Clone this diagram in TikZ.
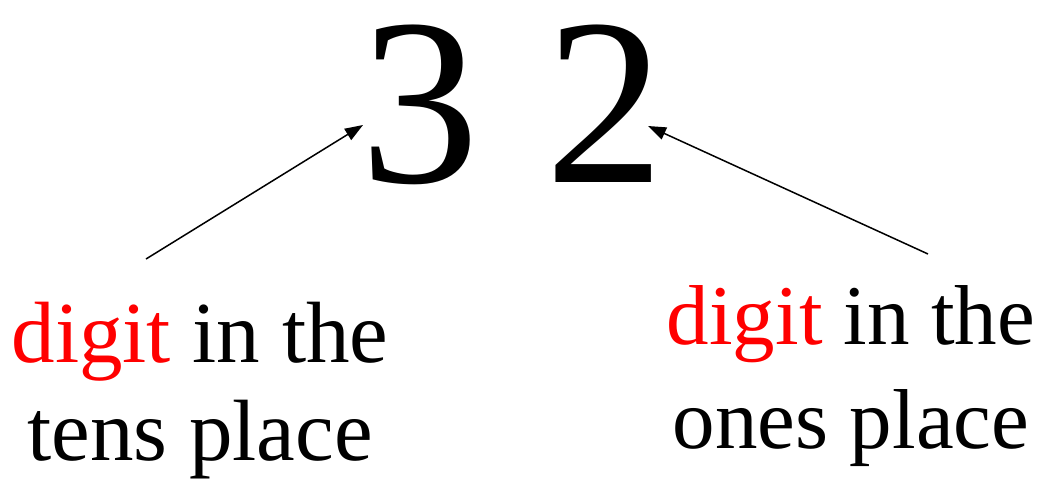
\documentclass[tikz,border=0pt]{standalone}
\usepackage{fontspec}
\setmainfont{Liberation Serif}
\usetikzlibrary{arrows.meta}
\begin{document}
\begin{tikzpicture}[x=1pt,y=-1pt,
  digitlbl/.style={inner sep=0pt,anchor=base,font=\fontsize{238}{240}\selectfont},
  placelbl/.style={inner sep=0pt,anchor=base,align=center},
  pointer/.style={line width=1.5pt,-{Triangle[length=18pt,width=13pt]}}]
\useasboundingbox (0,0) rectangle (1051,483);
\node[digitlbl] (n3) at (420,182) {3};
\node[digitlbl] (n2) at (605,182) {2};
\node[placelbl,font=\fontsize{87}{98}\selectfont] (tens) at (200,460) {\textcolor{red}{digit} in the\\tens place};
\node[placelbl,font=\fontsize{85}{104}\selectfont] (ones) at (851,448) {\textcolor{red}{digit} in the\\ones place};
\coordinate (tensTail) at (146,259);
\coordinate (tensTip) at (363,125);
\coordinate (onesTail) at (928,254);
\coordinate (onesTip) at (648,126);
\draw[pointer] (tensTail) -- (tensTip);
\draw[pointer] (onesTail) -- (onesTip);
\end{tikzpicture}
\end{document}
